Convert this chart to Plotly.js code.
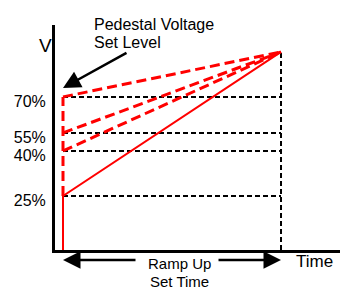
<!DOCTYPE html>
<html>
<head>
<meta charset="utf-8">
<script src="https://cdn.plot.ly/plotly-3.0.1.min.js"></script>
<style>html,body{margin:0;padding:0;background:#fff;}#chart{width:340px;height:291px;}</style>
</head>
<body>
<div id="chart"></div>
<script>
// Schematic: ramp-up with pedestal voltage set levels
var levelLabels = ['25%', '40%', '55%', '70%'];
var levelValues = [27.3, 50, 59.1, 77.3];   // vertical position of each pedestal level (axis units)
var rampStart = 0;      // time at which ramp begins
var rampEnd = 100;      // time at which ramp reaches full voltage
var fullVoltage = 100;  // final voltage (axis units)

var font = 'Liberation Sans, Arial, Helvetica, sans-serif';
var traces = [];

// black dashed reference lines for each level
levelValues.forEach(function (v) {
  traces.push({x: [rampStart, rampEnd], y: [v, v], mode: 'lines',
    line: {color: '#000', width: 2, dash: '5px,3px'}, hoverinfo: 'skip'});
});
// black dashed vertical at ramp end
traces.push({x: [rampEnd, rampEnd], y: [0, fullVoltage], mode: 'lines',
  line: {color: '#000', width: 2, dash: '5px,3px'}, hoverinfo: 'skip'});

// red dashed vertical pedestal step (from lowest to highest level)
traces.push({x: [rampStart, rampStart], y: [levelValues[0], levelValues[3]], mode: 'lines',
  line: {color: '#ff0000', width: 3, dash: '10px,5px'}, hoverinfo: 'skip'});
// red dashed ramps for higher pedestals
for (var i = 1; i < levelValues.length; i++) {
  traces.push({x: [rampStart, rampEnd], y: [levelValues[i], fullVoltage], mode: 'lines',
    line: {color: '#ff0000', width: 3, dash: '10px,5px'}, hoverinfo: 'skip'});
}
// red solid ramp from lowest pedestal
traces.push({x: [rampStart, rampStart, rampEnd], y: [0, levelValues[0], fullVoltage], mode: 'lines',
  line: {color: '#ff0000', width: 2}, hoverinfo: 'skip'});

var layout = {
  width: 340, height: 291,
  margin: {l: 55, r: 0, t: 25, b: 41},
  paper_bgcolor: '#fff', plot_bgcolor: '#fff',
  showlegend: false,
  font: {family: font, size: 15, color: '#000'},
  xaxis: {range: [-3.67, 127.06], showgrid: false, zeroline: false, showticklabels: false,
    ticks: '', showline: true, linecolor: '#000', linewidth: 3, fixedrange: true},
  yaxis: {range: [0, 113.6], showgrid: false, zeroline: false,
    tickvals: levelValues, ticktext: levelLabels, ticks: '', ticklabelshift: 4, ticklabelstandoff: 3,
    tickfont: {family: font, size: 16, color: '#000'},
    showline: true, linecolor: '#000', linewidth: 3, fixedrange: true},
  annotations: [
    {text: 'V', xref: 'paper', yref: 'paper', x: -0.033, y: 0.9111, xanchor: 'center', yanchor: 'middle',
      showarrow: false, font: {family: font, size: 19}},
    {text: 'Time', xref: 'paper', yref: 'paper', x: 0.909, y: -0.053, xanchor: 'center', yanchor: 'middle',
      showarrow: false, font: {family: font, size: 17}},
    {text: 'Pedestal Voltage', xref: 'paper', yref: 'paper', x: 0.13, y: 1.0022,
      xanchor: 'left', yanchor: 'middle', align: 'left', showarrow: false, font: {family: font, size: 16}},
    {text: 'Set Level', xref: 'paper', yref: 'paper', x: 0.13, y: 0.9222,
      xanchor: 'left', yanchor: 'middle', align: 'left', showarrow: false, font: {family: font, size: 16}},
    {text: 'Ramp Up', xref: 'x', yref: 'paper', x: 53.4, y: -0.058,
      xanchor: 'center', yanchor: 'middle', showarrow: false, font: {family: font, size: 15}},
    {text: 'Set Time', xref: 'x', yref: 'paper', x: 53.4, y: -0.142,
      xanchor: 'center', yanchor: 'middle', showarrow: false, font: {family: font, size: 15}},
    // pedestal arrow
    {text: '', xref: 'x', yref: 'y', x: rampStart, y: 81.8, ax: 65, ay: -36,
      showarrow: true, arrowhead: 2, arrowsize: 1.4, arrowwidth: 2.5, arrowcolor: '#000'},
    // ramp time arrows
    {text: '', xref: 'x', yref: 'paper', x: rampStart, y: -0.0444, ax: 74, ay: 0,
      showarrow: true, arrowhead: 2, arrowsize: 1.4, arrowwidth: 2.5, arrowcolor: '#000'},
    {text: '', xref: 'x', yref: 'paper', x: rampEnd, y: -0.0444, ax: -64, ay: 0,
      showarrow: true, arrowhead: 2, arrowsize: 1.4, arrowwidth: 2.5, arrowcolor: '#000'}
  ]
};

Plotly.newPlot('chart', traces, layout, {displayModeBar: false, staticPlot: true});
</script>
</body>
</html>
